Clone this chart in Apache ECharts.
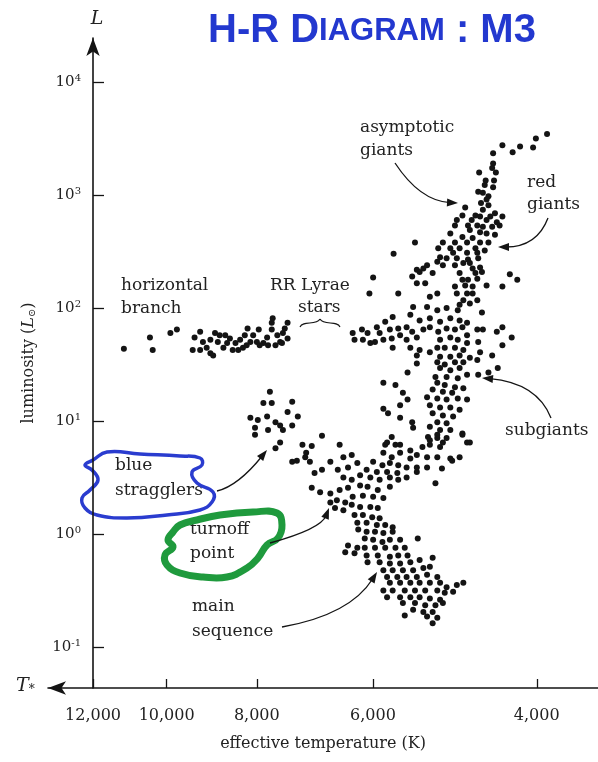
<!DOCTYPE html>
<html><head><meta charset="utf-8">
<script src="https://cdn.jsdelivr.net/npm/echarts@6/dist/echarts.min.js"></script>
<style>html,body{margin:0;padding:0;background:#fff}#c{width:598px;height:762px}</style>
</head><body><div id="c"></div>
<script>
// Each star: [log10 Teff (K), log10 L (L_sun)]
const blueHorizontalBranch = [[4.046,1.64],[4.018,1.74],[4.015,1.63],[3.996,1.78],[3.989,1.81],[3.970,1.74],[3.964,1.79],[3.972,1.63],[3.964,1.63],[3.957,1.65],[3.953,1.60],[3.950,1.58],[3.961,1.70],[3.953,1.72],[3.948,1.78],[3.945,1.70],[3.939,1.65],[3.937,1.76],[3.932,1.73],[3.929,1.63],[3.923,1.63],[3.921,1.72],[3.918,1.65],[3.916,1.76],[3.913,1.82],[3.910,1.70],[3.907,1.76],[3.903,1.70],[3.901,1.81],[3.896,1.69],[3.892,1.74],[3.891,1.67],[3.887,1.87],[3.887,1.81],[3.886,1.91],[3.881,1.76],[3.878,1.70],[3.875,1.78],[3.873,1.82],[3.870,1.87],[3.870,1.73],[3.876,1.69],[3.883,1.67],[3.900,1.67],[3.914,1.67],[3.935,1.69],[3.926,1.69],[3.943,1.76]];
const rrLyraeRegion = [[3.756,2.48],[3.778,2.27],[3.782,2.13],[3.751,2.13],[3.736,2.28],[3.731,2.34],[3.731,2.22],[3.733,2.58]];
const redHorizontalBranch = [[3.800,1.78],[3.798,1.72],[3.790,1.81],[3.789,1.72],[3.784,1.78],[3.781,1.69],[3.774,1.83],[3.771,1.78],[3.776,1.70],[3.767,1.72],[3.765,1.88],[3.760,1.81],[3.758,1.73],[3.757,1.92],[3.751,1.82],[3.749,1.76],[3.742,1.83],[3.736,1.79],[3.742,1.72],[3.731,1.74],[3.724,1.81],[3.717,1.83],[3.708,1.79],[3.757,1.65],[3.738,1.65],[3.728,1.63],[3.738,1.94],[3.735,2.01],[3.728,1.89],[3.720,2.01],[3.717,1.91],[3.717,2.10],[3.709,2.13]];
const giantBranch = [[3.591,3.54],[3.603,3.50],[3.606,3.42],[3.620,3.43],[3.628,3.38],[3.639,3.44],[3.649,3.37],[3.649,3.28],[3.650,3.24],[3.664,3.20],[3.646,3.20],[3.657,3.13],[3.648,3.13],[3.658,3.09],[3.649,3.07],[3.665,3.03],[3.660,3.02],[3.654,2.99],[3.656,2.96],[3.662,2.93],[3.654,2.91],[3.679,2.89],[3.660,2.87],[3.647,2.84],[3.682,2.82],[3.668,2.82],[3.663,2.81],[3.652,2.81],[3.639,2.81],[3.688,2.78],[3.672,2.78],[3.656,2.78],[3.645,2.76],[3.690,2.73],[3.676,2.73],[3.666,2.73],[3.660,2.72],[3.650,2.72],[3.642,2.73],[3.674,2.69],[3.663,2.67],[3.656,2.66],[3.695,2.66],[3.647,2.65],[3.682,2.63],[3.671,2.62],[3.703,2.58],[3.690,2.58],[3.677,2.58],[3.663,2.58],[3.654,2.58],[3.708,2.53],[3.695,2.53],[3.685,2.53],[3.668,2.53],[3.658,2.51],[3.692,2.49],[3.677,2.49],[3.666,2.49],[3.706,2.45],[3.699,2.44],[3.688,2.44],[3.676,2.43],[3.665,2.44],[3.709,2.41],[3.720,2.38],[3.703,2.38],[3.690,2.38],[3.681,2.40],[3.674,2.40],[3.663,2.36],[3.671,2.35],[3.724,2.35],[3.728,2.32],[3.714,2.31],[3.685,2.31],[3.668,2.31],[3.661,2.32],[3.631,2.30],[3.623,2.25],[3.722,2.22],[3.682,2.25],[3.676,2.25],[3.666,2.26],[3.656,2.20],[3.639,2.19],[3.690,2.19],[3.679,2.20],[3.671,2.19],[3.688,2.13],[3.677,2.13],[3.671,2.13],[3.681,2.07],[3.674,2.04],[3.666,2.07],[3.685,2.03],[3.699,2.00],[3.687,1.98],[3.709,1.98],[3.661,1.96],[3.706,1.88],[3.695,1.91],[3.685,1.89],[3.677,1.87],[3.699,1.82],[3.690,1.81],[3.682,1.83],[3.706,1.72],[3.695,1.74],[3.687,1.72],[3.677,1.76],[3.666,1.81],[3.660,1.81],[3.645,1.79],[3.639,1.83],[3.639,1.67],[3.629,1.74],[3.677,1.69],[3.665,1.70],[3.717,1.61],[3.709,1.65],[3.701,1.65],[3.690,1.65],[3.681,1.63],[3.663,1.61],[3.650,1.58],[3.731,1.58],[3.706,1.57],[3.695,1.57],[3.685,1.58],[3.674,1.56],[3.666,1.54],[3.731,1.51],[3.709,1.52],[3.701,1.50],[3.690,1.52],[3.681,1.52],[3.741,1.43],[3.706,1.47],[3.695,1.45],[3.685,1.47],[3.677,1.41],[3.654,1.43],[3.665,1.41],[3.644,1.47],[3.711,1.39],[3.699,1.39],[3.687,1.38]];
const subgiantBranch = [[3.767,1.34],[3.754,1.32],[3.709,1.34],[3.701,1.32],[3.690,1.30],[3.681,1.29],[3.714,1.28],[3.703,1.26],[3.693,1.25],[3.746,1.25],[3.720,1.21],[3.709,1.20],[3.699,1.19],[3.687,1.20],[3.677,1.19],[3.749,1.14],[3.741,1.19],[3.717,1.14],[3.706,1.12],[3.695,1.12],[3.685,1.10],[3.767,1.11],[3.762,1.07],[3.749,1.03],[3.714,1.07],[3.703,1.05],[3.692,1.04],[3.736,0.99],[3.709,0.99],[3.699,0.98],[3.735,0.94],[3.717,0.95],[3.706,0.92],[3.695,0.92],[3.682,0.89],[3.758,0.86],[3.719,0.86],[3.709,0.85],[3.699,0.85],[3.765,0.79],[3.754,0.79],[3.717,0.79],[3.706,0.77],[3.677,0.81],[3.814,0.79],[3.685,0.68],[3.693,0.65],[3.833,0.87],[3.854,0.79],[3.844,0.78],[3.860,0.65],[3.851,0.68],[3.824,0.64],[3.810,0.68],[3.801,0.70],[3.841,0.54],[3.833,0.57],[3.816,0.57],[3.805,0.59],[3.795,0.63],[3.763,0.81],[3.749,0.79],[3.738,0.74],[3.725,0.77],[3.717,0.83],[3.709,0.88],[3.703,0.81],[3.682,0.88],[3.674,0.81],[3.767,0.72],[3.758,0.68],[3.749,0.72],[3.738,0.67],[3.731,0.70],[3.720,0.68],[3.709,0.68],[3.695,0.67],[3.778,0.64],[3.768,0.61],[3.760,0.63],[3.751,0.61],[3.742,0.59],[3.731,0.59],[3.720,0.59],[3.704,0.58],[3.785,0.57],[3.774,0.55],[3.763,0.55],[3.752,0.54],[3.731,0.55],[3.792,0.52],[3.781,0.50],[3.771,0.48],[3.760,0.50],[3.751,0.48],[3.742,0.50],[3.711,0.45],[3.810,0.50],[3.801,0.48],[3.850,0.72],[3.846,0.64]];
const turnoffRegion = [[3.844,0.41],[3.835,0.37],[3.824,0.36],[3.814,0.39],[3.805,0.41],[3.792,0.43],[3.784,0.42],[3.773,0.39],[3.760,0.42],[3.800,0.33],[3.789,0.34],[3.778,0.33],[3.767,0.32],[3.817,0.30],[3.808,0.28],[3.824,0.28],[3.819,0.23],[3.810,0.21],[3.801,0.26],[3.792,0.24],[3.781,0.24],[3.773,0.23],[3.798,0.17],[3.789,0.17],[3.779,0.15],[3.771,0.14]];
const mainSequence = [[3.795,0.10],[3.785,0.10],[3.774,0.08],[3.765,0.08],[3.757,0.06],[3.794,0.04],[3.785,0.02],[3.776,0.02],[3.767,0.01],[3.757,0.02],[3.787,-0.04],[3.778,-0.05],[3.768,-0.07],[3.760,-0.05],[3.749,-0.05],[3.730,-0.04],[3.805,-0.10],[3.795,-0.12],[3.787,-0.12],[3.776,-0.12],[3.765,-0.12],[3.754,-0.12],[3.744,-0.12],[3.808,-0.16],[3.798,-0.17],[3.785,-0.19],[3.773,-0.19],[3.760,-0.20],[3.751,-0.19],[3.741,-0.19],[3.784,-0.25],[3.771,-0.25],[3.760,-0.26],[3.749,-0.26],[3.738,-0.25],[3.728,-0.23],[3.714,-0.21],[3.767,-0.32],[3.757,-0.32],[3.746,-0.32],[3.735,-0.32],[3.724,-0.30],[3.717,-0.29],[3.763,-0.38],[3.752,-0.38],[3.742,-0.38],[3.731,-0.38],[3.720,-0.36],[3.709,-0.38],[3.760,-0.43],[3.749,-0.43],[3.738,-0.43],[3.728,-0.43],[3.717,-0.43],[3.706,-0.43],[3.699,-0.47],[3.688,-0.45],[3.681,-0.43],[3.767,-0.50],[3.757,-0.50],[3.744,-0.50],[3.733,-0.50],[3.722,-0.50],[3.709,-0.50],[3.701,-0.52],[3.692,-0.51],[3.763,-0.56],[3.749,-0.56],[3.738,-0.56],[3.728,-0.56],[3.717,-0.57],[3.706,-0.58],[3.746,-0.61],[3.733,-0.61],[3.722,-0.63],[3.711,-0.63],[3.703,-0.61],[3.735,-0.67],[3.724,-0.69],[3.714,-0.69],[3.744,-0.72],[3.720,-0.73],[3.709,-0.74],[3.714,-0.79]];
const blueStragglers = [[3.889,1.26],[3.896,1.16],[3.887,1.16],[3.865,1.17],[3.870,1.08],[3.859,1.04],[3.910,1.03],[3.902,1.01],[3.892,1.04],[3.883,0.99],[3.878,0.96],[3.865,0.96],[3.905,0.94],[3.891,0.92],[3.875,0.92],[3.905,0.88],[3.878,0.81],[3.883,0.76],[3.865,0.64]];

const tempTicks = [12000, 10000, 8000, 6000, 4000];
const tempLabels = ['12,000', '10,000', '8,000', '6,000', '4,000'];
const lumExponents = [-1, 0, 1, 2, 3, 4];

const chart = echarts.init(document.getElementById('c'), null, {renderer: 'canvas'});
const INK = '#141414';
const SERIF = 'DejaVu Serif';
const groups = [blueHorizontalBranch, rrLyraeRegion, redHorizontalBranch, giantBranch, subgiantBranch, turnoffRegion, mainSequence, blueStragglers];

function arrow(p0, c, p1) {
  const dx = p1[0] - c[0], dy = p1[1] - c[1];
  const len = Math.hypot(dx, dy), ux = dx / len, uy = dy / len;
  const L = 11, W = 4;
  const bx = p1[0] - ux * L, by = p1[1] - uy * L;
  return [
    {type: 'bezierCurve', shape: {x1: p0[0], y1: p0[1], cpx1: c[0], cpy1: c[1], x2: bx + ux * 3, y2: by + uy * 3},
     style: {stroke: INK, lineWidth: 1.3, fill: null}},
    {type: 'polygon', shape: {points: [p1, [bx - uy * W, by + ux * W], [bx + uy * W, by - ux * W]]}, style: {fill: INK}}
  ];
}
function label(text, x, y) {
  return {type: 'text', style: {text: text, x: x, y: y, font: '17px "' + SERIF + '"', fill: '#222', align: 'left', verticalAlign: 'middle'}};
}

const graphics = [
  {type: 'text', style: {text: '{a|H-R D}{b|IAGRAM}{a| : M3}', x: 208, y: 31, verticalAlign: 'middle', align: 'left', fill: '#2338cf',
    rich: {a: {font: 'bold 40px "Liberation Sans"', fill: '#2338cf'}, b: {font: 'bold 31px "Liberation Sans"', fill: '#2338cf'}}}},
  {type: 'text', style: {text: 'L', x: 97, y: 19, font: 'italic 19px "' + SERIF + '"', fill: '#222', align: 'center', verticalAlign: 'middle'}},
  {type: 'text', style: {text: '{t|T}{s|*}', x: 16, y: 686, verticalAlign: 'middle', align: 'left',
    rich: {t: {font: 'italic 19px "' + SERIF + '"', fill: '#222'}, s: {font: 'italic 12px "' + SERIF + '"', fill: '#222', verticalAlign: 'bottom', padding: [8, 0, 0, 0]}}}},
  label('asymptotic', 360, 128), label('giants', 360, 151),
  label('red', 527, 183), label('giants', 527, 205),
  label('horizontal', 121, 286), label('branch', 121, 309),
  label('RR Lyrae', 270, 286), label('stars', 298, 308),
  label('subgiants', 505, 431),
  label('main', 192, 607), label('sequence', 192, 632),
  label('blue', 115, 466), label('stragglers', 115, 491),
  label('turnoff', 190, 530), label('point', 190, 554),
  {type: 'bezierCurve', shape: {x1: 300, y1: 327, cpx1: 303, cpy1: 320, cpx2: 316, cpy2: 326, x2: 320, y2: 319}, style: {stroke: INK, lineWidth: 1.2, fill: null}},
  {type: 'bezierCurve', shape: {x1: 320, y1: 319, cpx1: 324, cpy1: 326, cpx2: 337, cpy2: 320, x2: 340, y2: 327}, style: {stroke: INK, lineWidth: 1.2, fill: null}},
  {type: 'polygon', shape: {smooth: 0.45, points: [[93,460],[107,452],[140,454],[180,456],[200,458],[202,465],[192,472],[197,483],[213,492],[212,502],[200,510],[167,515],[127,518],[97,515],[85,508],[82,498],[90,490],[98,480],[92,470],[85,465]]},
   style: {stroke: '#2a3ccf', lineWidth: 3.5, fill: null}},
  {type: 'polygon', shape: {smooth: 0.45, points: [[173,532],[180,525],[197,520],[220,515],[253,512],[277,513],[282,525],[278,538],[267,545],[258,558],[247,568],[227,577],[203,577],[180,573],[167,565],[165,555],[173,547],[168,540]]},
   style: {stroke: '#1f9a3d', lineWidth: 7, fill: null}}
].concat(
  arrow([395,163],[420,201],[458,203]),
  arrow([548,218],[537,247],[498,247]),
  arrow([551,418],[537,383],[482,378]),
  arrow([217,491],[238,486],[267,450]),
  arrow([270,543],[321,529],[329,508]),
  arrow([282,627],[350,615],[377,572])
);

const axisText = {fontFamily: SERIF, color: '#222'};
chart.setOption({
  animation: false,
  backgroundColor: '#fff',
  grid: {left: 48, right: 0, top: 38, bottom: 74, containLabel: false},
  xAxis: {
    type: 'value', inverse: true, min: 3.5362, max: 4.1276,
    name: 'effective temperature (K)', nameLocation: 'middle', nameGap: 48,
    nameTextStyle: {fontFamily: SERIF, fontSize: 16, color: '#222'},
    axisLine: {onZero: false, lineStyle: {color: INK, width: 1.6}, symbol: ['arrow', 'none'], symbolSize: [10, 18]},
    axisTick: {inside: true, length: 9, lineStyle: {color: INK, width: 1.3}, customValues: tempTicks.map(Math.log10)},
    axisLabel: Object.assign({fontSize: 16, margin: 20, customValues: tempTicks.map(Math.log10),
      formatter: function (v) { const i = tempTicks.findIndex(t => Math.abs(Math.log10(t) - v) < 1e-6); return i >= 0 ? tempLabels[i] : ''; }}, axisText),
    splitLine: {show: false}
  },
  yAxis: {
    type: 'value', min: -1.362, max: 4.39, offset: -45,
    name: '{n|luminosity (}{i|L}{s|⊙}{n|)}', nameLocation: 'middle', nameGap: 56, nameRotate: 90,
    nameTextStyle: {rich: {n: {fontFamily: SERIF, fontSize: 16, color: '#222'}, i: {fontFamily: SERIF, fontStyle: 'italic', fontSize: 16, color: '#222'},
      s: {fontFamily: SERIF, fontSize: 10, color: '#222', verticalAlign: 'bottom', padding: [6, 0, 0, 0]}}},
    axisLine: {onZero: false, lineStyle: {color: INK, width: 1.6}, symbol: ['none', 'arrow'], symbolSize: [10, 18]},
    axisTick: {inside: true, length: 11, lineStyle: {color: INK, width: 1.3}, customValues: lumExponents},
    axisLabel: {margin: 12, customValues: lumExponents,
      formatter: function (v) { return '{b|10}{s|' + (v < 0 ? '-' + (-v) : v) + '}'; },
      rich: {b: {fontFamily: SERIF, fontSize: 15, color: '#222'}, s: {fontFamily: SERIF, fontSize: 10, color: '#222', verticalAlign: 'top', padding: [0, 0, 7, 0]}}},
    splitLine: {show: false}
  },
  series: groups.map(g => ({type: 'scatter', data: g, symbol: 'circle', symbolSize: 6, itemStyle: {color: INK, opacity: 1}, silent: true})),
  graphic: graphics
});
</script>
</body></html>
